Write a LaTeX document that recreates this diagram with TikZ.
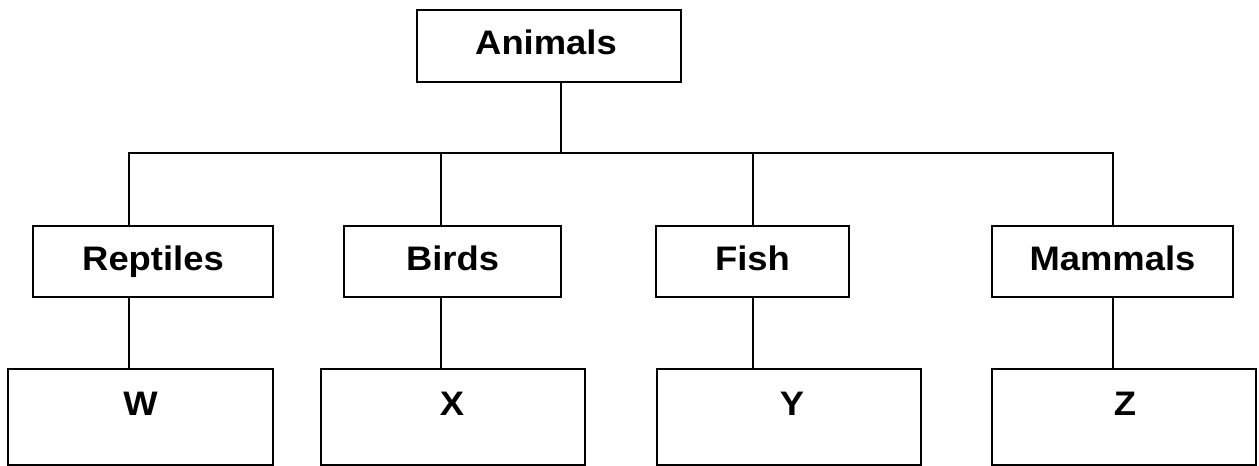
\documentclass[tikz,border=0pt]{standalone}
\usepackage{fontspec}
\setmainfont[FakeStretch=1.07]{Liberation Sans}
\begin{document}
\begin{tikzpicture}[x=1pt,y=-1pt,
  box/.style={draw=black,line width=1.8pt,rectangle,inner sep=0pt},
  lbl/.style={anchor=base,inner sep=0pt,font=\fontsize{34}{38}\selectfont\bfseries},
  conn/.style={draw=black,line width=1.8pt}]
\useasboundingbox (0,0) rectangle (1259,466);
% boxes
\node[box,minimum width=264pt,minimum height=72pt] (animals) at (549,46) {};
\node[box,minimum width=240pt,minimum height=71pt] (rep) at (153,261.5) {};
\node[box,minimum width=217pt,minimum height=71pt] (bir) at (452.5,261.5) {};
\node[box,minimum width=193pt,minimum height=71pt] (fis) at (752.5,261.5) {};
\node[box,minimum width=241pt,minimum height=71pt] (mam) at (1112.5,261.5) {};
\node[box,minimum width=265pt,minimum height=96pt] (w) at (140.5,417) {};
\node[box,minimum width=264pt,minimum height=96pt] (x) at (453,417) {};
\node[box,minimum width=264pt,minimum height=96pt] (y) at (789,417) {};
\node[box,minimum width=264pt,minimum height=96pt] (z) at (1124,417) {};
% labels
\node[lbl] (tanimals) at (546,54) {Animals};
\node[lbl] (trep) at (153,270.5) {Reptiles};
\node[lbl] (tbir) at (452.5,270.5) {Birds};
\node[lbl] (tfis) at (752.5,270.5) {Fish};
\node[lbl] (tmam) at (1112.5,270.5) {Mammals};
\node[lbl] (tw) at (140.5,415.5) {W};
\node[lbl] (tx) at (452,415.5) {X};
\node[lbl] (ty) at (792,415.5) {Y};
\node[lbl] (tz) at (1125,415.5) {Z};
% branch coordinates
\coordinate (trunk) at (561,153);
\coordinate (b1) at (129,153);
\coordinate (b2) at (441,153);
\coordinate (b3) at (753,153);
\coordinate (b4) at (1113,153);
\draw[conn] (trunk |- animals.south) -- (trunk);
\draw[conn] (b1 |- rep.north) -- (b1) -- (b4) -- (b4 |- mam.north);
\draw[conn] (b2) -- (b2 |- bir.north);
\draw[conn] (b3) -- (b3 |- fis.north);
\draw[conn] (b1 |- rep.south) -- (b1 |- w.north);
\draw[conn] (b2 |- bir.south) -- (b2 |- x.north);
\draw[conn] (b3 |- fis.south) -- (b3 |- y.north);
\draw[conn] (b4 |- mam.south) -- (b4 |- z.north);
\end{tikzpicture}
\end{document}
